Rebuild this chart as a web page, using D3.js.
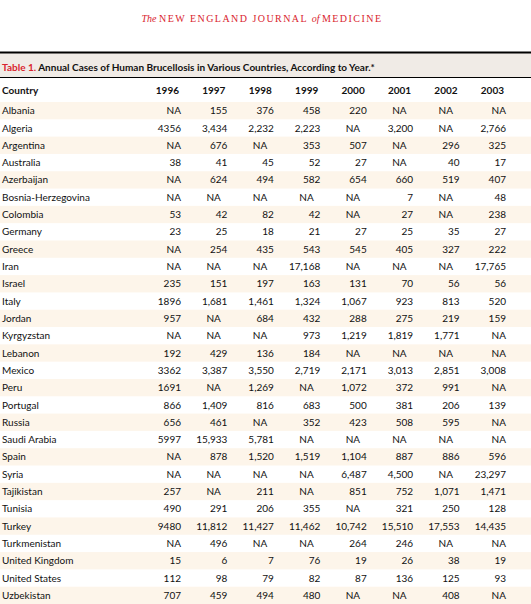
<!DOCTYPE html>
<html><head><meta charset="utf-8">
<script src="https://cdn.jsdelivr.net/npm/d3@7"></script>
<style>html,body{margin:0;padding:0;background:#fff;}svg{display:block;}</style>
</head><body>
<svg id="c" width="531" height="604"></svg>
<script>
const countries = ["Albania","Algeria","Argentina","Australia","Azerbaijan","Bosnia-Herzegovina","Colombia","Germany","Greece","Iran","Israel","Italy","Jordan","Kyrgyzstan","Lebanon","Mexico","Peru","Portugal","Russia","Saudi Arabia","Spain","Syria","Tajikistan","Tunisia","Turkey","Turkmenistan","United Kingdom","United States","Uzbekistan"];
const years = ["1996","1997","1998","1999","2000","2001","2002","2003"];
const NA = null;
const v1996 = [NA,4356,NA,38,NA,NA,53,23,NA,NA,235,1896,957,NA,192,3362,1691,866,656,5997,NA,NA,257,490,9480,NA,15,112,707];
const v1997 = [155,3434,676,41,624,NA,42,25,254,NA,151,1681,NA,NA,429,3387,NA,1409,461,15933,878,NA,NA,291,11812,496,6,98,459];
const v1998 = [376,2232,NA,45,494,NA,82,18,435,NA,197,1461,684,NA,136,3550,1269,816,NA,5781,1520,NA,211,206,11427,NA,7,79,494];
const v1999 = [458,2223,353,52,582,NA,42,21,543,17168,163,1324,432,973,184,2719,NA,683,352,NA,1519,NA,NA,355,11462,NA,76,82,480];
const v2000 = [220,NA,507,27,654,NA,NA,27,545,NA,131,1067,288,1219,NA,2171,1072,500,423,NA,1104,6487,851,NA,10742,264,19,87,NA];
const v2001 = [NA,3200,NA,NA,660,7,27,25,405,NA,70,923,275,1819,NA,3013,372,381,508,NA,887,4500,752,321,15510,246,26,136,NA];
const v2002 = [NA,NA,296,40,519,NA,NA,35,327,NA,56,813,219,1771,NA,2851,991,206,595,NA,886,NA,1071,250,17553,NA,38,125,408];
const v2003 = [NA,2766,325,17,407,48,238,27,222,17765,56,520,159,NA,NA,3008,NA,139,NA,NA,596,23297,1471,128,14435,NA,19,93,NA];
const series = [v1996,v1997,v1998,v1999,v2000,v2001,v2002,v2003];

const svg = d3.select("#c");
const FONT = "Lato, 'Noto Sans', sans-serif";
const RED = "#d9232e";
const FS = 10;

// masthead
const mh = svg.append("text").attr("x",262).attr("y",22).attr("text-anchor","middle")
  .attr("font-family","'Liberation Serif', 'DejaVu Serif', serif").attr("font-size",10).attr("fill",RED);
mh.append("tspan").attr("font-style","italic").text("The ");
mh.append("tspan").attr("letter-spacing",1.45).text("NEW ENGLAND JOURNAL ");
mh.append("tspan").attr("font-style","italic").text("of ");
mh.append("tspan").attr("letter-spacing",1.45).text("MEDICINE");

// title band
svg.append("rect").attr("x",0).attr("y",53).attr("width",531).attr("height",24).attr("fill","#f0ebe6");
svg.append("line").attr("x1",0).attr("x2",531).attr("y1",52.5).attr("y2",52.5).attr("stroke","#000").attr("stroke-width",1.8);
svg.append("line").attr("x1",0).attr("x2",531).attr("y1",77.5).attr("y2",77.5).attr("stroke","#000").attr("stroke-width",1);
const tt = svg.append("text").attr("x",2).attr("y",71).attr("font-family",FONT).attr("font-size",FS).attr("font-weight","bold");
tt.append("tspan").attr("fill",RED).text("Table 1. ");
tt.append("tspan").attr("fill","#111").text("Annual Cases of Human Brucellosis in Various Countries, According to Year.*");

// scales
const x = d3.scalePoint().domain(years).range([181,506]);
const y = d3.scaleBand().domain(countries).range([102,604]);

// header row
svg.append("text").attr("x",2).attr("y",94).attr("font-family",FONT).attr("font-size",FS).attr("font-weight","bold").attr("fill","#111").text("Country");
svg.selectAll("text.yh").data(years).join("text").attr("class","yh")
  .attr("x",d=>x(d)-2).attr("y",94).attr("text-anchor","end")
  .attr("font-family",FONT).attr("font-size",FS).attr("font-weight","bold").attr("fill","#111").text(d=>d);

// stripes
svg.selectAll("rect.st").data(countries.filter((d,i)=>i%2===0)).join("rect").attr("class","st")
  .attr("x",0).attr("width",531).attr("y",d=>y(d)).attr("height",y.bandwidth()).attr("fill","#fdf5ea");

// country labels
svg.selectAll("text.cn").data(countries).join("text").attr("class","cn")
  .attr("x",2).attr("y",d=>y(d)+y.bandwidth()/2+3.6)
  .attr("font-family",FONT).attr("font-size",FS).attr("fill","#111").text(d=>d);

// cells
const fmtPlain = d3.format("d"), fmtComma = d3.format(",");
const cells = [];
series.forEach((arr,j)=>arr.forEach((v,i)=>cells.push({c:countries[i],yr:years[j],j,v})));
svg.selectAll("text.cell").data(cells).join("text").attr("class","cell")
  .attr("x",d=>{ if(d.v===null && d.j>0 && d.j<7) return x(d.yr)-21; return x(d.yr); })
  .attr("text-anchor",d=>(d.v===null && d.j>0 && d.j<7) ? "start" : "end")
  .attr("y",d=>y(d.c)+y.bandwidth()/2+3.6)
  .attr("font-family",FONT).attr("font-size",FS).attr("fill","#111")
  .text(d=> d.v===null ? "NA" : (d.j===0 ? fmtPlain(d.v) : fmtComma(d.v)));
</script>
</body></html>
